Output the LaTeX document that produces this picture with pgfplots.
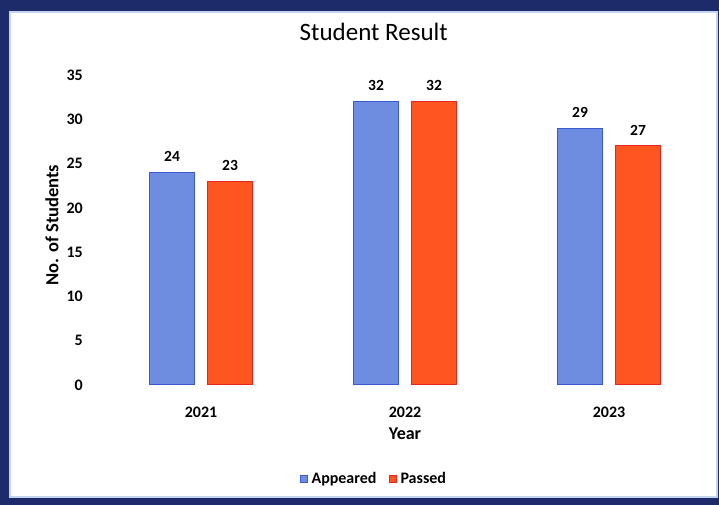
\documentclass[border=0pt]{standalone}
\usepackage{pgfplots}
\pgfplotsset{compat=1.18}
\usepackage{fontspec}
\setmainfont{Carlito}
\definecolor{frame}{HTML}{1E2B6A}
\definecolor{paneledge}{HTML}{C3D5EE}
\definecolor{bluefill}{HTML}{6F8DE0}
\definecolor{blueedge}{HTML}{3B58D4}
\definecolor{redfill}{HTML}{FF5621}
\definecolor{rededge}{HTML}{E5261A}
\begin{document}
\begin{tikzpicture}[x=1pt,y=1pt]
\fill[frame] (0,0) rectangle (719,505);
\fill[white,draw=paneledge,line width=2pt] (10,8) rectangle (717,493);
\begin{axis}[
  at={(99pt,120pt)}, anchor=south west,
  width=612pt, height=310pt, scale only axis,
  ybar=13pt, bar width=45pt,
  xmin=-0.5, xmax=2.5, ymin=0, ymax=35,
  xtick={0,1,2}, xticklabels={2021,2022,2023},
  ytick={0,5,...,35},
  axis line style={draw=none},
  tick style={draw=none},
  /pgf/number format/assume math mode=true,
  tick label style={font=\fontsize{16}{19}\selectfont\bfseries},
  yticklabel style={anchor=east, inner sep=0pt, xshift=-16pt},
  xticklabel style={anchor=north, inner sep=0pt, yshift=-18pt},
  title={Student Result},
  title style={at={(axis description cs:0.449,1.119)}, anchor=center, font=\fontsize{25}{29}\selectfont},
  xlabel={Year},
  xlabel style={at={(axis description cs:0.5,-0.158)}, anchor=center, font=\fontsize{18}{21}\selectfont\bfseries},
  ylabel={No. of Students},
  ylabel style={at={(axis description cs:-0.0768,0.516)}, anchor=center, rotate=0, font=\fontsize{18.5}{21}\selectfont\bfseries},
  nodes near coords,
  nodes near coords style={anchor=south, inner sep=0pt, yshift=10pt, font=\fontsize{15.5}{18}\selectfont\bfseries, text=black},
  legend columns=2,
  legend style={at={(axis description cs:0.449,-0.303)}, anchor=center, draw=none, fill=none,
    font=\fontsize{16}{19}\selectfont\bfseries,
    /tikz/every odd column/.append style={column sep=2pt},
    /tikz/every even column/.append style={column sep=10pt}},
  legend image code/.code={\draw[#1,line width=1pt] (0pt,-3.5pt) rectangle (7pt,3.5pt);},
]
\addplot[fill=bluefill, draw=blueedge, line width=1pt] coordinates {(0,24) (1,32) (2,29)};
\addplot[fill=redfill, draw=rededge, line width=1pt] coordinates {(0,23) (1,32) (2,27)};
\legend{Appeared, Passed}
\end{axis}
\end{tikzpicture}
\end{document}
